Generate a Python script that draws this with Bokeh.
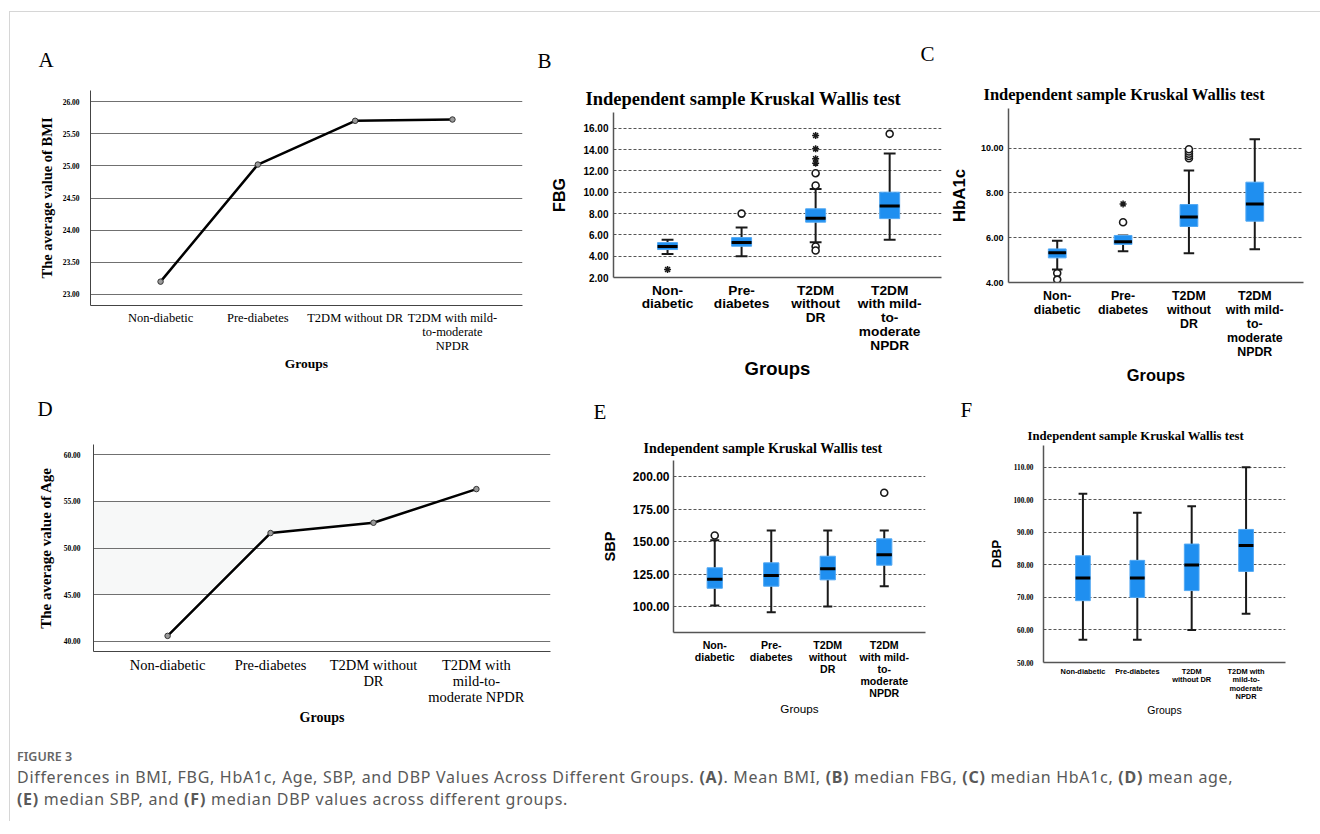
import numpy as np
from bokeh.plotting import figure
from bokeh.models import Range1d, FixedTicker, NumeralTickFormatter, Title, Div
from bokeh.layouts import row, column
from bokeh.embed import file_html
from bokeh.resources import INLINE

# ---------------- data ----------------
groups_A = ["Non-diabetic", "Pre-diabetes", "T2DM without DR", "T2DM with mild-\nto-moderate\nNPDR"]
bmi_mean = [23.20, 25.02, 25.70, 25.72]
bmi_ticks = [23.0, 23.5, 24.0, 24.5, 25.0, 25.5, 26.0]

groups_D = ["Non-diabetic", "Pre-diabetes", "T2DM without\nDR", "T2DM with\nmild-to-\nmoderate NPDR"]
age_mean = [40.6, 51.6, 52.7, 56.3]
age_ticks = [40.0, 45.0, 50.0, 55.0, 60.0]

groups_box = ["Non-\ndiabetic", "Pre-\ndiabetes", "T2DM\nwithout\nDR", "T2DM\nwith mild-\nto-\nmoderate\nNPDR"]
groups_F = ["Non-diabetic", "Pre-diabetes", "T2DM\nwithout DR", "T2DM with\nmild-to-\nmoderate\nNPDR"]

fbg_low = [4.21, 3.99, 5.31, 5.55]
fbg_q1 = [4.62, 4.93, 7.19, 7.52]
fbg_median = [4.90, 5.27, 7.56, 8.70]
fbg_q3 = [5.27, 5.74, 8.44, 10.00]
fbg_high = [5.55, 6.68, 10.30, 13.62]
fbg_circle_group = [1, 2, 2, 2, 2, 3]
fbg_circle_value = [7.99, 10.63, 11.78, 4.91, 4.53, 15.47]
fbg_star_group = [0, 2, 2, 2, 2]
fbg_star_value = [2.75, 12.72, 13.13, 14.06, 15.31]
fbg_ticks = [2, 4, 6, 8, 10, 12, 14, 16]

hba_low = [4.58, 5.40, 5.31, 5.49]
hba_q1 = [5.10, 5.70, 6.50, 6.74]
hba_median = [5.33, 5.82, 6.92, 7.51]
hba_q3 = [5.50, 6.10, 7.48, 8.48]
hba_high = [5.86, 6.10, 9.00, 10.40]
hba_circle_group = [0, 0, 1, 2, 2, 2, 2, 2]
hba_circle_value = [4.42, 4.13, 6.69, 9.55, 9.65, 9.75, 9.85, 9.95]
hba_star_group = [1]
hba_star_value = [7.51]
hba_ticks = [4, 6, 8, 10]

sbp_low = [100.8, 95.6, 100.0, 115.7]
sbp_q1 = [114.1, 115.7, 120.6, 131.9]
sbp_median = [121.1, 123.9, 129.1, 139.9]
sbp_q3 = [129.9, 133.7, 138.8, 152.2]
sbp_high = [151.2, 158.6, 158.6, 158.6]
sbp_circle_group = [0, 3]
sbp_circle_value = [154.8, 187.7]
sbp_ticks = [100, 125, 150, 175, 200]

dbp_low = [57.0, 57.0, 60.0, 65.0]
dbp_q1 = [69.0, 70.0, 72.1, 78.0]
dbp_median = [76.0, 76.0, 80.0, 86.0]
dbp_q3 = [82.8, 81.4, 86.4, 90.9]
dbp_high = [101.9, 96.0, 98.0, 110.0]
dbp_ticks = [50, 60, 70, 80, 90, 100, 110]

KW_TITLE = "Independent sample Kruskal Wallis test"

# ---------------- style ----------------
SERIF = "Liberation Serif"
SANS = "Liberation Sans"
BLUE = "#1f8ff0"
BLUE_EDGE = "#52a8f3"


def make_panel(ox, oy, w, h, frame, xr, yr, transparent=False):
    fl, ft, fr, fb = frame
    p = figure(width=w, height=h, x_range=Range1d(*xr), y_range=Range1d(*yr),
               output_backend="svg", toolbar_location=None,
               min_border_left=fl - ox, min_border_top=ft - oy,
               min_border_right=ox + w - fr, min_border_bottom=oy + h - fb,
               margin=(0, 0, 0, 0))
    p.title.text = ""
    p.outline_line_color = None
    p.background_fill_color = "white"
    p.border_fill_color = None if transparent else "white"
    p.xgrid.grid_line_color = None
    return p, fl


def add_title(p, fl, text, left_px, standoff, font, size, style="normal"):
    p.add_layout(Title(text=text, align="left", offset=left_px - fl, standoff=standoff,
                       vertical_align="bottom", text_font=font, text_font_size=f"{size}px",
                       text_font_style=style, text_color="black"), "above")


def base_axes(p, xlabels, yticks, axis_color, axis_width):
    p.xaxis.ticker = FixedTicker(ticks=list(range(len(xlabels))))
    p.xaxis.major_label_overrides = {i: lab for i, lab in enumerate(xlabels)}
    p.yaxis.ticker = FixedTicker(ticks=yticks)
    p.ygrid.ticker = FixedTicker(ticks=yticks)
    p.yaxis.formatter = NumeralTickFormatter(format="0.00")
    for ax in (p.xaxis[0], p.yaxis[0]):
        ax.major_tick_line_color = None
        ax.minor_tick_line_color = None
        ax.major_tick_out = 0
        ax.major_tick_in = 0
        ax.axis_line_color = axis_color
        ax.axis_line_width = axis_width
        ax.major_label_text_color = "black"
        ax.axis_label_text_color = "black"
        ax.major_label_orientation = "horizontal"


def set_axis(ax, label, lab_font, lab_size, lab_style, lab_standoff,
             tick_font, tick_size, tick_style, tick_standoff, line_h=1.0):
    ax.axis_label = label
    ax.axis_label_text_font = lab_font
    ax.axis_label_text_font_size = f"{lab_size}px"
    ax.axis_label_text_font_style = lab_style
    ax.axis_label_standoff = lab_standoff
    ax.major_label_text_font = tick_font
    ax.major_label_text_font_size = f"{tick_size}px"
    ax.major_label_text_font_style = tick_style
    ax.major_label_standoff = tick_standoff
    ax.major_label_text_line_height = line_h


def draw_boxes(p, lo, q1, med, q3, hi, cg=None, cv=None, sg=None, sv=None):
    xs = np.arange(len(q1), dtype=float)
    p.segment(x0=xs, y0=lo, x1=xs, y1=q1, line_color="#1a1a1a", line_width=2)
    p.segment(x0=xs, y0=q3, x1=xs, y1=hi, line_color="#1a1a1a", line_width=2)
    p.segment(x0=xs - 0.08, y0=lo, x1=xs + 0.08, y1=lo, line_color="#1a1a1a", line_width=2)
    p.segment(x0=xs - 0.08, y0=hi, x1=xs + 0.08, y1=hi, line_color="#1a1a1a", line_width=2)
    p.vbar(x=xs, width=0.27, bottom=q1, top=q3, fill_color=BLUE, line_color=BLUE_EDGE, line_width=1)
    p.segment(x0=xs - 0.135, y0=med, x1=xs + 0.135, y1=med, line_color="black", line_width=3)
    if cg:
        p.scatter(x=cg, y=cv, marker="circle", size=7, fill_color="white",
                  line_color="#1a1a1a", line_width=1.6)
    if sg:
        p.scatter(x=sg, y=sv, marker="asterisk", size=7,
                  line_color="#1a1a1a", line_width=1.5)


def style_box_grid(p):
    p.ygrid.grid_line_color = "#555555"
    p.ygrid.grid_line_dash = "3 2"
    p.ygrid.grid_line_width = 1


# ---------------- Panel A ----------------
pA, fA = make_panel(10, 12, 520, 380, (90, 90, 522, 305), (-0.72, 3.72), (22.829, 26.171))
base_axes(pA, groups_A, bmi_ticks, "#444444", 1)
set_axis(pA.yaxis[0], "The average value of BMI", SERIF, 14.5, "bold", 5, SERIF, 7.5, "bold", 11)
set_axis(pA.xaxis[0], "Groups", SERIF, 13.5, "bold", 0, SERIF, 12.5, "normal", 5, 1.0)
pA.ygrid.grid_line_color = "#707070"
pA.ygrid.grid_line_width = 1
pA.line(x=list(range(4)), y=bmi_mean, line_color="black", line_width=2.5)
pA.scatter(x=list(range(4)), y=bmi_mean, marker="circle", size=5.5, fill_color="#9a9a9a",
           line_color="#333333", line_width=1)
add_title(pA, fA, "A", 38, 37, SERIF, 21)

# ---------------- Panel B ----------------
pB, fB = make_panel(530, 12, 415, 380, (613, 112, 941, 277), (-0.73, 3.70), (2.0, 17.47))
base_axes(pB, groups_box, fbg_ticks, "#555555", 1.5)
set_axis(pB.yaxis[0], "FBG", SANS, 16, "bold", 12, SANS, 10, "bold", 5)
set_axis(pB.xaxis[0], "Groups", SANS, 18.5, "bold", 2, SANS, 13.7, "bold", 5, 0.92)
style_box_grid(pB)
draw_boxes(pB, fbg_low, fbg_q1, fbg_median, fbg_q3, fbg_high,
           fbg_circle_group, fbg_circle_value, fbg_star_group, fbg_star_value)
add_title(pB, fB, KW_TITLE, 585, 8, SERIF, 18.5, "bold")
add_title(pB, fB, "B", 537, 20, SERIF, 21)

# ---------------- Panel C ----------------
pC, fC = make_panel(915, 12, 405, 380, (1008, 108, 1303, 282), (-0.74, 3.74), (4.0, 11.77),
                    transparent=True)
base_axes(pC, groups_box, hba_ticks, "#555555", 1.5)
set_axis(pC.yaxis[0], "HbA1c", SANS, 16.8, "bold", 9, SANS, 9, "bold", 5)
set_axis(pC.xaxis[0], "Groups", SANS, 16.4, "bold", 4, SANS, 12.4, "bold", 6, 1.0)
style_box_grid(pC)
draw_boxes(pC, hba_low, hba_q1, hba_median, hba_q3, hba_high,
           hba_circle_group, hba_circle_value, hba_star_group, hba_star_value)
add_title(pC, fC, KW_TITLE, 983, 10, SERIF, 16.5, "bold")
add_title(pC, fC, "C", 920, 23, SERIF, 21)

# ---------------- Panel D ----------------
ROW2_Y = 370
pD, fD = make_panel(10, ROW2_Y, 550, 365, (93, 444, 550, 651), (-0.72, 3.72), (38.93, 61.07),
                    transparent=True)
base_axes(pD, groups_D, age_ticks, "#444444", 1)
set_axis(pD.yaxis[0], "The average value of Age", SERIF, 15, "bold", 7, SERIF, 7.5, "bold", 13)
set_axis(pD.xaxis[0], "Groups", SERIF, 14, "bold", 2, SERIF, 14.5, "normal", 5, 1.03)
pD.ygrid.grid_line_color = "#707070"
pD.ygrid.grid_line_width = 1
# faint shaded band (45-55) above the line, as in the source image
xs_shade = np.union1d(np.linspace(-0.72, 2.64, 200), [0, 1, 2])
xs_shade = xs_shade[xs_shade <= 2.64]
line_at = np.interp(xs_shade, list(range(4)), age_mean)
pD.varea(x=xs_shade, y1=np.clip(line_at, 45, 55), y2=55, fill_color="#f7f8f8", level="underlay")
pD.line(x=list(range(4)), y=age_mean, line_color="black", line_width=2.5)
pD.scatter(x=list(range(4)), y=age_mean, marker="circle", size=5.5, fill_color="#9a9a9a",
           line_color="#333333", line_width=1)
add_title(pD, fD, "D", 37, 47, SERIF, 21)

# ---------------- Panel E ----------------
pE, fE = make_panel(560, ROW2_Y, 375, 365, (673, 460, 925, 632), (-0.73, 3.73), (80.0, 212.6),
                    transparent=True)
base_axes(pE, groups_box, sbp_ticks, "#555555", 1.5)
set_axis(pE.yaxis[0], "SBP", SANS, 14.6, "bold", 12, SANS, 12, "bold", 4)
set_axis(pE.xaxis[0], "Groups", SANS, 11.7, "normal", 0, SANS, 10.6, "bold", 6, 1.0)
style_box_grid(pE)
draw_boxes(pE, sbp_low, sbp_q1, sbp_median, sbp_q3, sbp_high,
           sbp_circle_group, sbp_circle_value)
add_title(pE, fE, KW_TITLE, 643, 10, SERIF, 14, "bold")
add_title(pE, fE, "E", 593, 20, SERIF, 21)

# ---------------- Panel F ----------------
pF, fF = make_panel(935, ROW2_Y, 385, 365, (1043, 445, 1285, 662), (-0.725, 3.725), (50.0, 116.7),
                    transparent=True)
base_axes(pF, groups_F, dbp_ticks, "#555555", 1.5)
set_axis(pF.yaxis[0], "DBP", SANS, 13.5, "bold", 6, SERIF, 7.3, "bold", 10)
set_axis(pF.xaxis[0], "Groups", SANS, 10.5, "normal", 0, SANS, 7.4, "bold", 4, 0.95)
style_box_grid(pF)
draw_boxes(pF, dbp_low, dbp_q1, dbp_median, dbp_q3, dbp_high)
add_title(pF, fF, KW_TITLE, 1027, 6, SERIF, 12.7, "bold")
add_title(pF, fF, "F", 960, 3, SERIF, 21)

# ---------------- caption ----------------
caption_html = (
    '<div style="font-family:\'Noto Sans\';color:#595959;padding-left:7px;white-space:nowrap;">'
    '<div style="margin-top:15px;margin-bottom:2px;font-size:12.5px;line-height:14px;'
    'font-weight:600;color:#666;">FIGURE 3</div>'
    '<div style="font-size:16px;line-height:22px;letter-spacing:0.7px;">'
    'Differences in BMI, FBG, HbA1c, Age, SBP, and DBP Values Across Different Groups. '
    '<b>(A)</b>. Mean BMI, <b>(B)</b> median FBG, <b>(C)</b> median HbA1c, <b>(D)</b> mean age,<br>'
    '<b>(E)</b> median SBP, and <b>(F)</b> median DBP values across different groups.'
    '</div></div>'
)
caption = Div(text=caption_html, width=1300, height=86, margin=(0, 0, 0, 0))


def solo(p, left=0):
    return column(p, margin=(0, 0, 0, left))


top = row(solo(pA), solo(pB), solo(pC, -30), spacing=0, margin=(0, 0, 0, 0))
bottom = row(solo(pD), solo(pE), solo(pF), spacing=0, margin=(ROW2_Y - 392, 0, 0, 0))
root = column(top, bottom, caption, spacing=0, margin=(11, 0, 0, 9),
              styles={"border-top": "1px solid #d6d6d6", "border-left": "1px solid #d6d6d6"})

open("out.html", "w").write(file_html(root, INLINE))
